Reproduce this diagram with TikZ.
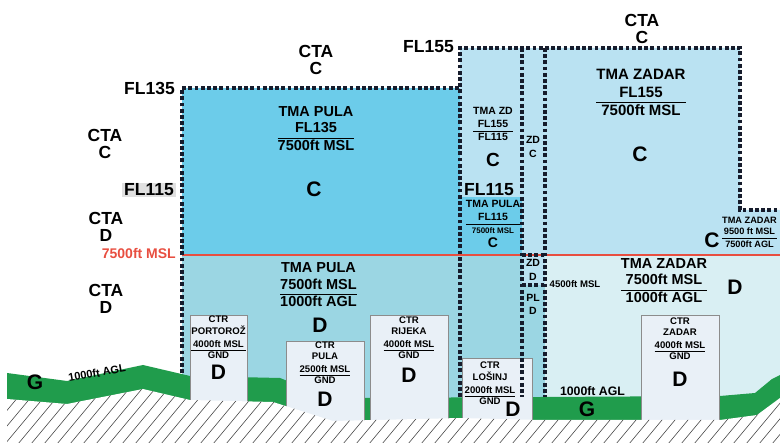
\documentclass[tikz,border=0pt]{standalone}
\usepackage{fontspec}
\setmainfont{Liberation Sans}
\definecolor{pulaup}{RGB}{108,204,234}
\definecolor{pulalow}{RGB}{155,214,227}
\definecolor{zdup}{RGB}{186,226,242}
\definecolor{zdlow}{RGB}{217,239,243}
\definecolor{ctrfill}{RGB}{233,240,247}
\definecolor{classg}{RGB}{32,156,76}
\definecolor{myred}{RGB}{232,78,64}
\definecolor{zoneline}{RGB}{22,28,44}
\definecolor{flgray}{RGB}{224,224,224}
\setlength{\arrayrulewidth}{0.8pt}

% upper / lower limit of a zone
\newcommand{\zonebox}[3]{\begin{tabular}{@{}c@{}}#1\\#2\\\hline #3\end{tabular}}
\newcommand{\ctrbox}[2]{\begin{tabular}{@{}c@{}}CTR\\#1\\[2pt]#2\\\hline GND\end{tabular}}

\tikzset{
    zone/.style={line width=3.2pt, zoneline, dash pattern=on 3.8pt off 2.4pt},
    ctr/.style={draw=black!45, line width=0.8pt, fill=ctrfill},
    bigtxt/.style={font=\bfseries\fontsize{17.5}{17}\selectfont, align=center, inner sep=0pt},
    tmatxt/.style={font=\bfseries\fontsize{14.5}{16.5}\selectfont, inner sep=0pt},
    smalltxt/.style={font=\bfseries\fontsize{10.5}{13}\selectfont, align=center, inner sep=0pt},
    ctrtxt/.style={font=\bfseries\fontsize{9.6}{10.8}\selectfont, inner sep=0pt},
    cls/.style={font=\bfseries\fontsize{21}{21}\selectfont, inner sep=0pt},
    hatch/.style={black!70, line width=0.6pt},
}

\begin{document}
\begin{tikzpicture}[x=1pt, y=-1pt]

\useasboundingbox (0,0) rectangle (780,443);
\clip (0,0) rectangle (780,443);

% Airspace fills
\fill[pulaup] (182,88) rectangle (460,255);
\fill[zdup] (460,48) rectangle (545,255);
\fill[pulaup] (460,197) rectangle (522,255);
\fill[zdup] (545,48) -- (740,48) -- (740,210) -- (780,210) -- (780,255) -- (545,255) -- cycle;
\fill[pulalow] (182,255) rectangle (522,430);
\fill[zdup] (522,255) rectangle (545,285);
\fill[pulalow] (522,285) rectangle (545,430);
\fill[zdlow] (545,255) rectangle (780,430);
\draw[myred, line width=1.4pt] (182,255) -- (780,255);

% Terrain: class G band
\fill[classg] (7,373) -- (67,381) -- (143,365) -- (190,376) -- (280,378) -- (300,386)
    -- (362,398) -- (720,396) -- (755,393) -- (772,379) -- (780,375) -- (780,443) -- (7,443) -- cycle;

% CTR boxes
\draw[ctr] (190,315) rectangle (247,430);
\draw[ctr] (286,341) rectangle (364,430);
\draw[ctr] (370,315) rectangle (448,430);
\draw[ctr] (462,358) rectangle (532,430);
\draw[ctr] (641,315) rectangle (719,430);

% Terrain: ground
\begin{scope}
    \path[clip] (7,399) -- (67,404) -- (143,389) -- (190,400) -- (273,402) -- (333,421) -- (460,418)
        -- (540,420) -- (720,420) -- (757,415) -- (780,398) -- (780,443) -- (7,443) -- cycle;
    \fill[white] (0,380) rectangle (780,443);
    \foreach \i in {-8,...,62}
        \draw[hatch] (\i*13,450) -- ++(75,-90);
\end{scope}

% Zone borders
\draw[zone] (182,373) -- (182,88) -- (460,88);
\draw[zone] (460,397) -- (460,48) -- (740,48) -- (740,210) -- (780,210);
\draw[zone] (522,48) -- (522,397);
\draw[zone] (545,48) -- (545,397);
\draw[zone] (522,255) -- (545,255);
\draw[zone] (522,285) -- (545,285);

% Flight levels and CTA
\node[bigtxt, anchor=east] (fl135) at (175,88) {FL135};
\node[bigtxt, anchor=east, fill=flgray, inner xsep=2pt, inner ysep=1pt] (fl115) at (176,190) {FL115};
\node[bigtxt, anchor=east] (fl155) at (454,47) {FL155};
\node[font=\bfseries\fontsize{14}{16}\selectfont, myred, anchor=east, inner sep=0pt] (msl) at (176,253) {7500ft MSL};
\node[bigtxt] (ctaC) at (105,144) {CTA\\C};
\node[bigtxt] (ctaD) at (106,226.5) {CTA\\D};
\node[bigtxt] (ctaDlow) at (106,299) {CTA\\D};
\node[bigtxt] (ctaPula) at (316,60) {CTA\\C};
\node[bigtxt] (ctaZadar) at (642,29) {CTA\\C};

% TMA PULA
\node[tmatxt] (pulaT) at (316,130) {\zonebox{TMA PULA}{FL135}{7500ft MSL}};
\node[cls] (pulaC) at (314,189) {C};
\node[tmatxt] (pulaB) at (318.5,286.5) {\zonebox{TMA PULA}{7500ft MSL}{1000ft AGL}};
\node[cls] (pulaD) at (320,325.5) {D};

% TMA ZD column
\node[smalltxt] (zdT) at (493,125) {\zonebox{TMA ZD}{FL155}{FL115}};
\node[font=\bfseries\fontsize{19}{19}\selectfont, inner sep=0pt] (zdC) at (493,160) {C};
\node[bigtxt] (fl115b) at (489,190) {FL115};
\node[smalltxt] (pulaS) at (493,218) {\zonebox{TMA PULA}{FL115}{\fontsize{8}{10}\selectfont 7500ft MSL}};
\node[font=\bfseries\fontsize{14}{14}\selectfont, inner sep=0pt] (pulaSC) at (493,243) {C};
\node[smalltxt, font=\bfseries\fontsize{10.5}{14}\selectfont] (zdCol) at (533,147) {ZD\\C};
\node[smalltxt, font=\bfseries\fontsize{10.5}{14}\selectfont] (zdD) at (533,270) {ZD\\D};
\node[smalltxt, font=\bfseries\fontsize{10.5}{13}\selectfont] (plD) at (533,304.5) {PL\\D};
\node[ctrtxt] (msl4500) at (575,284.5) {4500ft MSL};

% TMA ZADAR
\node[tmatxt, font=\bfseries\fontsize{15}{17.5}\selectfont] (zadarT) at (641,94) {\zonebox{TMA ZADAR}{FL155}{7500ft MSL}};
\node[cls] (zadarC) at (640,154.5) {C};
\node[smalltxt, font=\bfseries\fontsize{9.2}{11.5}\selectfont, anchor=west] (zadarS) at (722,233) {\zonebox{TMA ZADAR}{9500 ft MSL}{7500ft AGL}};
\node[cls] (zadarSC) at (712,240.5) {C};
\node[tmatxt] (zadarB) at (664,282) {\zonebox{TMA ZADAR}{7500ft MSL}{1000ft AGL}};
\node[cls] (zadarD) at (735,287.5) {D};

% CTR labels
\node[ctrtxt] (ctrPor) at (218.5,338.5) {\ctrbox{PORTOROŽ}{4000ft MSL}};
\node[cls] (ctrPorD) at (218.5,372.5) {D};
\node[ctrtxt] (ctrPul) at (325,364) {\ctrbox{PULA}{2500ft MSL}};
\node[cls] (ctrPulD) at (325,399.5) {D};
\node[ctrtxt] (ctrRij) at (409,339) {\ctrbox{RIJEKA}{4000ft MSL}};
\node[cls] (ctrRijD) at (409,375.5) {D};
\node[ctrtxt] (ctrLos) at (490,384.5) {\ctrbox{LOŠINJ}{2000ft MSL}};
\node[cls] (ctrLosD) at (513,409) {D};
\node[ctrtxt] (ctrZad) at (680,340) {\ctrbox{ZADAR}{4000ft MSL}};
\node[cls] (ctrZadD) at (680,379.5) {D};

% Class G
\node[cls] (gLeft) at (35,382.5) {G};
\node[font=\bfseries\fontsize{11}{11}\selectfont, inner sep=0pt, rotate=10] (aglLeft) at (97,373) {1000ft AGL};
\node[font=\bfseries\fontsize{12.3}{12}\selectfont, inner sep=0pt] (aglRight) at (592.5,391.5) {1000ft AGL};
\node[cls] (gRight) at (587,409.5) {G};

\end{tikzpicture}
\end{document}
